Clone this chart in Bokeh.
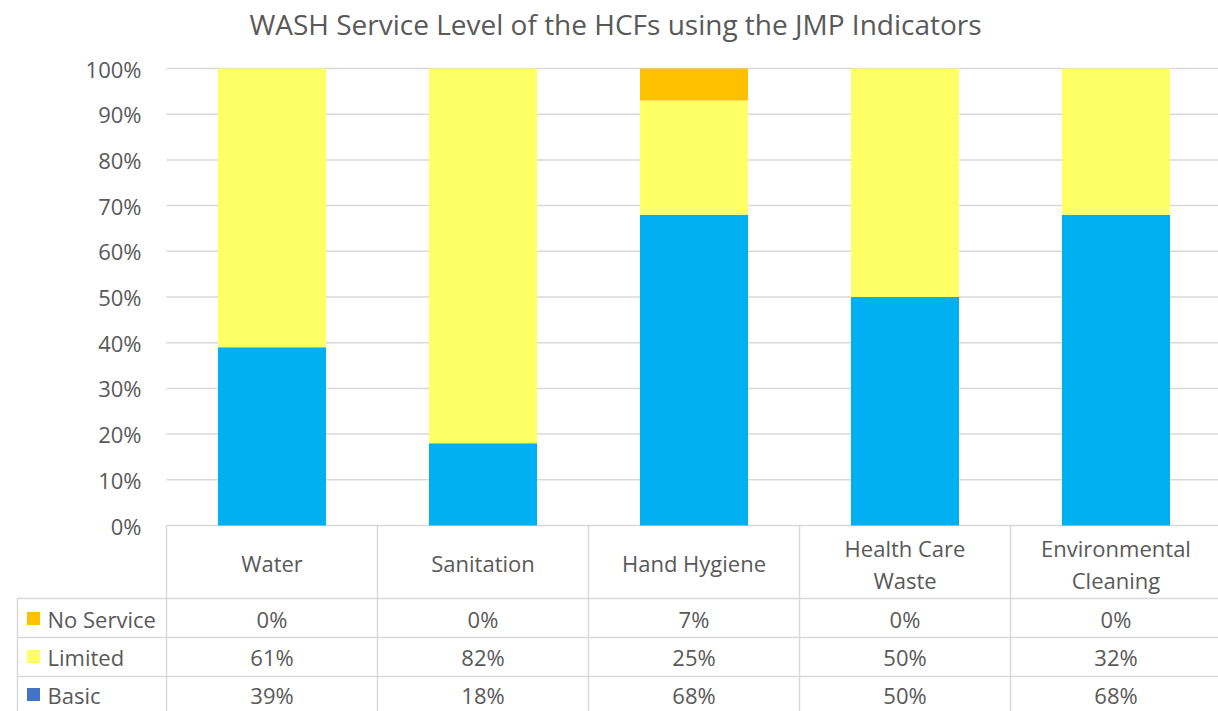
from bokeh.plotting import figure
from bokeh.models import Range1d, ColumnDataSource
from bokeh.core.properties import value
from bokeh.embed import file_html
from bokeh.resources import INLINE

# ---------------- data ----------------
title_text = "WASH Service Level of the HCFs using the JMP Indicators"
categories = ["Water", "Sanitation", "Hand Hygiene", "Health Care Waste", "Environmental Cleaning"]
series_names = ["No Service", "Limited", "Basic"]   # table row order (top to bottom)
basic = [39, 18, 68, 50, 68]
limited = [61, 82, 25, 50, 32]
no_service = [0, 0, 7, 0, 0]
y_ticks = [0, 10, 20, 30, 40, 50, 60, 70, 80, 90, 100]
y_tick_labels = ["0%", "10%", "20%", "30%", "40%", "50%", "60%", "70%", "80%", "90%", "100%"]

# ---------------- styling / geometry ----------------
FONT = value("Open Sans")
TXT = "#595959"
GRID = "#D9D9D9"
bar_colors = {"Basic": "#00B0F0", "Limited": "#FFFF66", "No Service": "#FFC000"}
key_colors = {"Basic": "#4472C4", "Limited": "#FFFF66", "No Service": "#FFC000"}

W, H = 1218, 711
PLOT_LEFT = 166.0    # px of plot-area left edge
COL_W = 211.0        # px per category
Y0 = 525.0           # px of 0%
PX_PER_PCT = 4.57    # px per percent


def dx(px):
    return (px - PLOT_LEFT) / COL_W


def dy(py):
    return (Y0 - py) / PX_PER_PCT


p = figure(width=W, height=H, output_backend="svg", toolbar_location=None,
           x_range=Range1d(dx(0), dx(W)), y_range=Range1d(dy(H), dy(0)),
           x_axis_location=None, y_axis_location=None, min_border=0,
           outline_line_color=None, background_fill_color="white",
           border_fill_color="white")
p.grid.visible = False

n_cat = len(categories)
x_right = dx(W)

# gridlines
p.segment(x0=[0] * len(y_ticks), y0=y_ticks, x1=[x_right] * len(y_ticks), y1=y_ticks,
          line_color=GRID, line_width=1.5)

# stacked bars
xs = [i + 0.5 for i in range(n_cat)]
src = ColumnDataSource(data={"x": xs, "Basic": basic, "Limited": limited, "No Service": no_service})
stack_order = ["Basic", "Limited", "No Service"]
p.vbar_stack(stack_order, x="x", width=0.512, source=src,
             fill_color=[bar_colors[s] for s in stack_order], line_color=None)

# y tick labels
p.text(x=[dx(141)] * len(y_ticks), y=y_ticks, text=y_tick_labels,
       text_align="right", text_baseline="middle", text_font=FONT,
       text_font_size="22px", text_color=TXT)

# title
p.text(x=[dx(615)], y=[dy(23)], text=[title_text], text_align="center",
       text_baseline="middle", text_font=FONT, text_font_size="28px", text_color=TXT)

# ---------------- data table ----------------
row_y = {"No Service": 618, "Limited": 656, "Basic": 694}
row_vals = {"No Service": no_service, "Limited": limited, "Basic": basic}

# table lines
h_lines = [598, 637, 676]
p.segment(x0=[dx(17)] * 3, y0=[dy(v) for v in h_lines],
          x1=[x_right] * 3, y1=[dy(v) for v in h_lines],
          line_color=GRID, line_width=1.5)
v_x = [float(i) for i in range(n_cat)]
p.segment(x0=v_x, y0=[0] * n_cat, x1=v_x, y1=[dy(H)] * n_cat,
          line_color=GRID, line_width=1.5)
p.segment(x0=[dx(17)], y0=[dy(598)], x1=[dx(17)], y1=[dy(H)],
          line_color=GRID, line_width=1.5)

# category header
hx, hy, ht = [], [], []
for i, c in enumerate(categories):
    if len(c) > 13:
        a, b = c.rsplit(" ", 1)
        hx += [i + 0.5, i + 0.5]
        hy += [dy(547), dy(579)]
        ht += [a, b]
    else:
        hx.append(i + 0.5)
        hy.append(dy(562))
        ht.append(c)
p.text(x=hx, y=hy, text=ht, text_align="center", text_baseline="middle",
       text_font=FONT, text_font_size="22px", text_color=TXT)

# values
vx, vy, vt = [], [], []
for s in series_names:
    for i, v in enumerate(row_vals[s]):
        vx.append(i + 0.5)
        vy.append(dy(row_y[s]))
        vt.append(f"{v}%")
p.text(x=vx, y=vy, text=vt, text_align="center", text_baseline="middle",
       text_font=FONT, text_font_size="22px", text_color=TXT)

# row legend keys + labels
p.scatter(x=[dx(33)] * 3, y=[dy(row_y[s]) for s in series_names], marker="square",
          size=13, fill_color=[key_colors[s] for s in series_names], line_color=None)
p.text(x=[dx(47)] * 3, y=[dy(row_y[s]) for s in series_names], text=series_names,
       text_align="left", text_baseline="middle", text_font=FONT,
       text_font_size="22px", text_color=TXT)

open("out.html", "w").write(file_html(p, INLINE))
